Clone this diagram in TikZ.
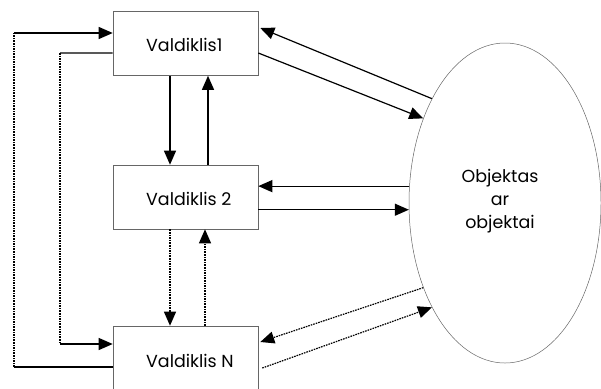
\documentclass[tikz,border=0pt]{standalone}
\usepackage{fontspec}
\setmainfont{Poppins}
\usetikzlibrary{arrows.meta,calc,shapes.geometric}

\begin{document}
\begin{tikzpicture}[x=1bp,y=-1bp,
    box/.style={draw=black!60,line width=0.6bp,minimum width=145bp,minimum height=64bp,inner sep=0pt},
    lbl/.style={font=\fontsize{17.5}{23}\selectfont,inner sep=0pt},
    conn/.style={line width=1.2bp},
    dotln/.style={line width=1.2bp,dash pattern=on 1.6bp off 1bp},
    tip/.style={-{Triangle[length=14bp,width=12bp]}}]
  \useasboundingbox (0,0) rectangle (601,388);
  % valdikliai
  \node[box] (v1) at (185.5,43.5) {};
  \node[box] (v2) at (185.5,197) {};
  \node[box] (vN) at (185.5,358) {};
  \node[lbl,anchor=west] (t1) at (146,45) {Valdiklis1};
  \node[lbl,anchor=west] (t2) at (146,199) {Valdiklis 2};
  \node[lbl,anchor=west] (tN) at (146,361) {Valdiklis N};
  % objektas
  \node[ellipse,draw=black!60,line width=0.5bp,minimum width=192bp,minimum height=320bp,inner sep=0pt] (obj) at (505,203) {};
  \node[lbl,align=center] (tobj) at (500,201) {Objektas\\ar\\objektai};
  % tarp valdikliu
  \draw[conn,tip] ($(v1.south)+(-15.5,0)$) -- ($(v2.north)+(-15.5,0)$);
  \draw[conn,tip] ($(v2.north)+(22.5,0)$) -- ($(v1.south)+(22.5,0)$);
  \draw[dotln,tip] ($(v2.south)+(-15.5,0)$) -- ($(vN.north)+(-15.5,0)$);
  \draw[dotln,tip] ($(vN.north)+(19.5,0)$) -- ($(v2.south)+(19.5,0)$);
  % su objektu
  \draw[conn,tip] (obj.125) -- ($(v1.east)+(2,-15.5)$);
  \draw[conn,tip] ($(v1.east)+(0,9.5)$) -- (obj.134);
  \draw[conn,tip] (obj.170) -- (obj.170 -| v2.east);
  \draw[conn,tip] (obj.184 -| v2.east) -- (obj.184);
  \draw[dotln,tip] (obj.226) -- ($(vN.east)+(2,-16)$);
  \draw[dotln,tip] ($(vN.east)+(4,10)$) -- (obj.235);
  % kilpos kaireje
  \coordinate (oa) at (14,367);
  \coordinate (ob) at (14,33);
  \draw[conn] ($(vN.west)+(0,9)$) -- (oa);
  \draw[dotln] (oa) -- (ob);
  \draw[conn,tip] (ob) -- ($(v1.west)+(0,-10.5)$);
  \coordinate (ia) at (60,53);
  \coordinate (ib) at (60,344);
  \draw[conn] ($(v1.west)+(0,9.5)$) -- (ia);
  \draw[dotln] (ia) -- (ib);
  \draw[conn,tip] (ib) -- ($(vN.west)+(0,-14)$);
\end{tikzpicture}
\end{document}
